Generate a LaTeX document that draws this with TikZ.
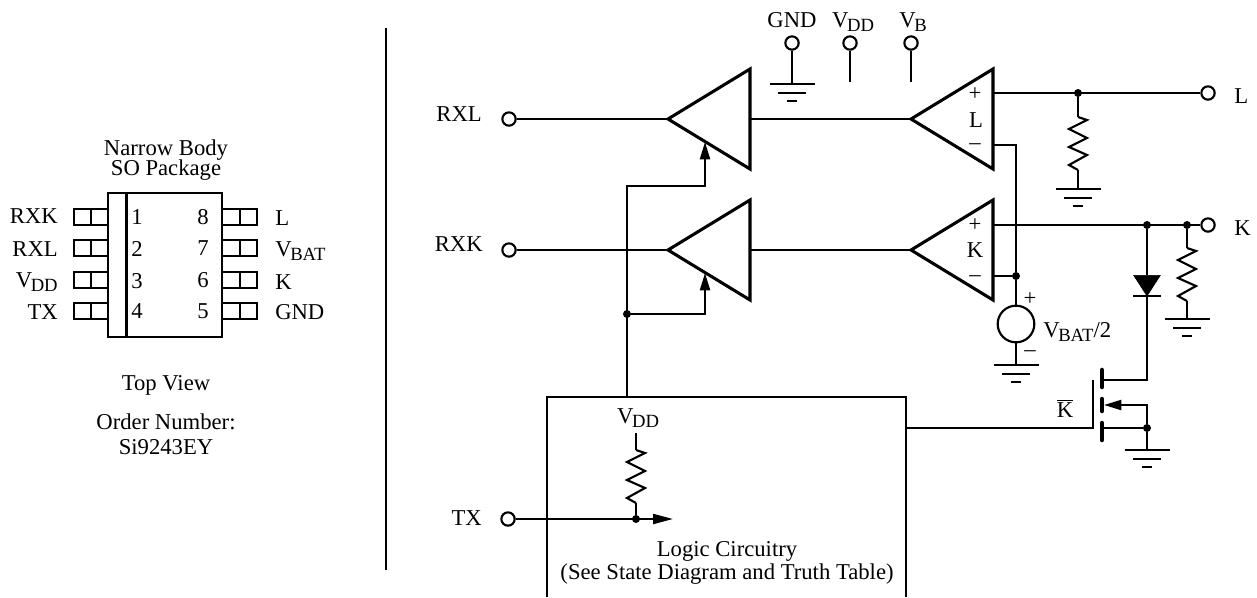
\documentclass[tikz,border=0pt]{standalone}
\usepackage{fontspec}
\setmainfont{Liberation Serif}
\usetikzlibrary{arrows.meta,shapes.geometric}
\newcommand{\Vsub}[1]{V\kern-.06em\lower.2em\hbox{\fontsize{14}{14}\selectfont #1}}
\tikzset{
	wire/.style = {line width=1.6pt},
	lbl/.style = {inner sep=0pt, anchor=base},
	lblr/.style = {inner sep=0pt, anchor=base east},
	lbll/.style = {inner sep=0pt, anchor=base west},
	sign/.style = {inner sep=0pt},
	term/.style = {draw, circle, wire, fill=white, inner sep=0pt, minimum size=10pt},
	dot/.style = {fill, circle, inner sep=0pt, minimum size=6pt},
	amp/.style = {draw, isosceles triangle, isosceles triangle stretches, shape border rotate=180,
		line width=2.3pt, inner sep=0pt, outer sep=0pt, minimum width=75pt, minimum height=61.5pt, anchor=apex},
	tip/.style = {-{Triangle[length=13pt,width=7.5pt]}},
	pics/gnd/.style = {code={
		\draw[wire] (-22.5,0) -- (22.5,0);
		\draw[wire] (-14,9) -- (14,9);
		\draw[wire] (-5,17) -- (5,17);
	}},
	pics/rzig/.style = {code={
		\draw[wire] (0,0) -- (9,3) -- (-9,12) -- (9,21) -- (-9,30) -- (9,38) -- (-9,48) -- (0,53);
	}}
}
\begin{document}
\begin{tikzpicture}[x=0.75pt,y=-0.75pt,font=\fontsize{17}{18}\selectfont]
	\useasboundingbox (0,0) rectangle (1257,597);
	\node[lbl] (title1) at (166,155) {Narrow Body};
	\node[lbl] (title2) at (166,175) {SO Package};
	\node[lbl] (view) at (166,390) {Top View};
	\node[lbl] (order1) at (166,429) {Order Number:};
	\node[lbl] (order2) at (166,454) {Si9243EY};
	\draw[wire] (108,193) rectangle (222,337);
	\draw[wire] (126.5,193) -- (126.5,337);
	\foreach \y in {217,248,280,311} {
		\draw[wire] (108,\y-8) -- (74,\y-8) -- (74,\y+8) -- (108,\y+8);
		\draw[wire] (91,\y-8) -- (91,\y+8);
		\draw[wire] (222,\y-8) -- (257,\y-8) -- (257,\y+8) -- (222,\y+8);
		\draw[wire] (240,\y-8) -- (240,\y+8);
	}
	\foreach \t/\n/\y in {RXK/rxk/223,RXL/rxl/256,\Vsub{DD}/vdd/287,TX/tx/319}
		\node[lblr] (pin\n) at (58,\y) {\t};
	\foreach \t/\n/\y in {L/l/225,\Vsub{BAT}/vbat/256,K/k/289,GND/gnd/319}
		\node[lbll] (pin\n) at (275,\y) {\t};
	\foreach \t/\y in {1/224,2/256,3/288,4/318}
		\node[lbl] (num\t) at (137,\y) {\t};
	\foreach \t/\y in {8/224,7/255,6/287,5/318}
		\node[lbl] (num\t) at (203,\y) {\t};
	\coordinate (divtop) at (386,28);
	\coordinate (divbot) at (386,570);
	\draw[wire] (divtop) -- (divbot);

	\node[term] (tRXL) at (509,119) {};
	\node[term] (tRXK) at (509,250) {};
	\node[term] (tTX) at (508,519) {};
	\node[term] (tGND) at (792,43) {};
	\node[term] (tVDD) at (850,43) {};
	\node[term] (tVB) at (911,43) {};
	\node[term] (tL) at (1208,93) {};
	\node[term] (tK) at (1208,225) {};
	\node[lblr] (lRXL) at (482,121) {RXL};
	\node[lblr] (lRXK) at (483,251) {RXK};
	\node[lblr] (lTX) at (482,525) {TX};
	\node[lbl] (lGND) at (792,27) {GND};
	\node[lbl] (lVDD) at (853,27) {\Vsub{DD}};
	\node[lbl] (lVB) at (913,27) {\Vsub{B}};
	\node[lbll] (lL) at (1234,103) {L};
	\node[lbll] (lK) at (1234,235) {K};

	\node[amp] (ampL) at (668,119) {};
	\node[amp] (ampK) at (668,250) {};
	\node[amp] (cmpL) at (911,119) {};
	\node[amp] (cmpK) at (911,250) {};
	\node[lbl] (nameL) at (976,127) {L};
	\node[lbl] (nameK) at (975,257) {K};
	\node[sign] (plusL) at (975,94) {+};
	\node[sign] (minusL) at (975,147) {--};
	\node[sign] (plusK) at (975,225) {+};
	\node[sign] (minusK) at (975,279) {--};

	\draw[wire] (tRXL) -- (ampL.apex);
	\draw[wire] (tRXK) -- (ampK.apex);
	\draw[wire] (ampL.lower side) -- (cmpL.apex);
	\draw[wire] (ampK.lower side) -- (cmpK.apex);

	\coordinate (gGND) at (792,84);
	\coordinate (eVDD) at (850,82);
	\coordinate (eVB) at (911,82);
	\draw (gGND) pic {gnd};
	\draw[wire] (tGND) -- (gGND);
	\draw[wire] (tVDD) -- (eVDD);
	\draw[wire] (tVB) -- (eVB);

	\coordinate (boxNW) at (547,397);
	\coordinate (boxNE) at (906,397);
	\coordinate (boxSW) at (547,597);
	\coordinate (boxSE) at (906,597);
	\draw[wire] (boxSW) -- (boxNW) -- (boxNE) -- (boxSE);
	\node[lbl] (logic1) at (727,556) {Logic Circuitry};
	\node[lbl] (logic2) at (727,579) {(See State Diagram and Truth Table)};
	\node[lbl] (lVDDin) at (638,423) {\Vsub{DD}};

	\node[dot] (jEn) at (627,314) {};
	\coordinate (enTop) at (627,397);
	\coordinate (enL) at (705,142);
	\coordinate (enK) at (705,273);
	\draw[wire,tip] (enTop) -- (627,186) -- (705,186) -- (enL);
	\draw[wire,tip] (jEn) -- (705,314) -- (enK);

	\node[dot] (jTX) at (636,519) {};
	\coordinate (txEnd) at (673,519);
	\coordinate (rTop) at (636,433);
	\draw[wire,-{Triangle[length=15pt,width=7.5pt]}] (tTX) -- (txEnd);
	\draw[wire] (rTop) -- (636,450);
	\draw (636,450) pic {rzig};
	\draw[wire] (636,503) -- (jTX);

	\node[dot] (jL) at (1078,93) {};
	\coordinate (outL) at (993,93);
	\draw[wire] (outL) -- (tL);
	\draw[wire] (jL) -- (1078,117);
	\draw (1078,117) pic {rzig};
	\draw[wire] (1078,170) -- (1078,189);
	\draw (1078,189) pic {gnd};

	\node[dot] (jK1) at (1147,225) {};
	\node[dot] (jK2) at (1187,225) {};
	\coordinate (outK) at (993,225);
	\draw[wire] (outK) -- (tK);
	\draw[wire] (jK2) -- (1187,248);
	\draw (1187,248) pic {rzig};
	\draw[wire] (1187,301) -- (1187,319);
	\draw (1187,319) pic {gnd};

	\node[dot] (jVB) at (1016,276) {};
	\coordinate (inLm) at (993,145);
	\coordinate (inKm) at (993,276);
	\node[draw, circle, wire, inner sep=0pt, minimum size=27.5pt] (vsrc) at (1016,324) {};
	\draw[wire] (inLm) -- (1016,145) -- (jVB);
	\draw[wire] (inKm) -- (jVB);
	\draw[wire] (jVB) -- (vsrc);
	\coordinate (gVsrc) at (1016,365);
	\draw[wire] (vsrc) -- (gVsrc);
	\draw (gVsrc) pic {gnd};
	\node[sign] (plusV) at (1030,299) {+};
	\node[sign] (minusV) at (1030,354) {--};
	\node[lbll] (lVsrc) at (1043,337) {\Vsub{BAT}/2};

	\node[draw, fill, isosceles triangle, isosceles triangle stretches, shape border rotate=270, inner sep=0pt, outer sep=0pt,
		minimum width=20pt, minimum height=15.5pt, anchor=apex] (diode) at (1147,296) {};
	\coordinate (dBarL) at (1133,296);
	\coordinate (dBarR) at (1161,296);
	\draw[wire] (dBarL) -- (dBarR);
	\draw[wire] (jK1) -- (1147,275);
	\draw[wire] (1147,296) -- (1147,380) -- (1102,380);

	\coordinate (gateIn) at (906,428);
	\coordinate (gateTop) at (1093,380);
	\coordinate (gateBot) at (1093,428);
	\draw[wire] (gateIn) -- (gateBot) -- (gateTop);
	\node[lbl] (lKbar) at (1065,417) {$\overline{\mbox{K}}$};
	\draw[line width=3.4pt,line cap=round] (1102,370) -- (1102,387);
	\draw[line width=3.4pt,line cap=round] (1102,399) -- (1102,411);
	\draw[line width=3.4pt,line cap=round] (1102,423) -- (1102,440);
	\node[dot] (jS) at (1147,428) {};
	\coordinate (gS) at (1147,450);
	\coordinate (ch) at (1104,405);
	\draw[wire] (1102,428) -- (jS);
	\draw[wire,tip] (jS) -- (1147,405) -- (ch);
	\draw[wire] (jS) -- (gS);
	\draw (gS) pic {gnd};
\end{tikzpicture}
\end{document}
